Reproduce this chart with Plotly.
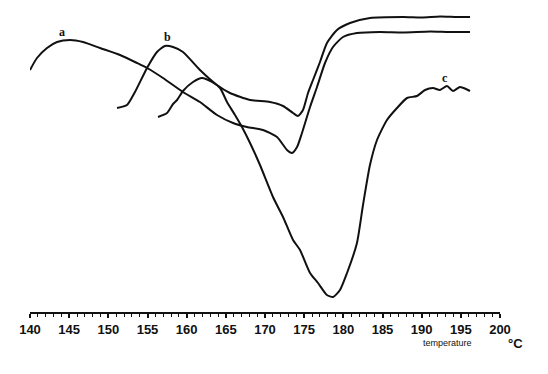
import plotly.graph_objects as go

# Temperature (°C) and heat-flow signal (arbitrary units)
temp_a = [140.0, 140.89, 142.17, 143.45, 145.11, 146.77, 148.94, 151.49, 153.66, 154.94,
          156.98, 159.53, 161.70, 163.87, 165.92, 167.70, 169.75, 171.53, 172.81, 173.45,
          174.09, 174.72, 175.75, 176.64, 177.66, 178.68, 179.96, 181.74, 184.68, 187.62,
          191.07, 193.5, 196.17]
sig_a = [24.2, 25.4, 26.4, 27.0, 27.2, 27.0, 26.4, 25.7, 24.9, 24.4,
         23.4, 22.0, 21.0, 19.7, 18.9, 18.5, 18.2, 17.5, 16.2, 15.9,
         16.5, 17.9, 20.5, 22.5, 24.9, 26.5, 27.5, 27.9, 28.0, 27.95,
         28.05, 28.0, 28.0]

temp_b = [151.11, 152.38, 153.40, 154.94, 156.21, 157.23, 158.26, 159.53, 161.70, 163.87,
          165.53, 168.09, 170.64, 172.30, 173.58, 174.21, 174.85, 175.49, 176.13, 177.02,
          177.91, 179.19, 180.85, 183.40, 187.62, 190.0, 192.34, 194.5, 196.17]
sig_b = [20.4, 20.7, 22.0, 24.4, 26.0, 26.6, 26.5, 26.0, 24.2, 22.7,
         21.9, 21.2, 21.0, 20.6, 19.9, 19.6, 20.2, 21.9, 23.2, 25.0,
         26.9, 28.2, 28.9, 29.4, 29.5, 29.45, 29.55, 29.5, 29.5]

temp_c = [156.34, 157.49, 158.26, 158.77, 159.53, 160.81, 161.96, 163.23, 164.26, 165.15,
          166.17, 167.06, 168.09, 169.36, 171.02, 172.30, 173.58, 174.47, 175.75, 176.77,
          177.91, 178.68, 179.57, 180.47, 181.74, 182.51, 183.40, 184.30, 185.57, 186.85,
          188.13, 189.40, 190.43, 191.45, 192.34, 193.23, 194.00, 194.89, 195.66, 196.17]
sig_c = [19.5, 19.9, 20.8, 21.2, 22.1, 23.0, 23.4, 23.0, 22.4, 21.0,
         19.7, 18.5, 16.9, 14.7, 11.5, 9.5, 7.2, 6.2, 3.9, 2.9,
         1.7, 1.5, 2.2, 3.9, 6.9, 10.7, 14.7, 17.2, 19.2, 20.4,
         21.4, 21.6, 22.2, 22.4, 22.2, 22.6, 22.1, 22.5, 22.3, 22.1]

curve_labels = ["a", "b", "c"]
label_pos = [(144.09, 28.0), (157.49, 27.5), (192.98, 23.4)]

major_ticks = list(range(140, 201, 5))
tick_text = [str(v) for v in major_ticks]

fig = go.Figure()
for t, s in [(temp_a, sig_a), (temp_b, sig_b), (temp_c, sig_c)]:
    fig.add_trace(go.Scatter(x=t, y=s, mode="lines",
                             line=dict(color="#111111", width=2, shape="spline", smoothing=0.6),
                             showlegend=False, hoverinfo="skip"))

for lab, (lx, ly) in zip(curve_labels, label_pos):
    fig.add_annotation(x=lx, y=ly, text="<b>" + lab + "</b>", showarrow=False,
                       font=dict(family="Liberation Serif, serif", size=12, color="#111111"))

fig.add_annotation(xref="paper", yref="paper", x=0.889, y=-0.10, text="temperature",
                   showarrow=False, xanchor="center", yanchor="middle",
                   font=dict(family="Liberation Sans Narrow, Liberation Sans, sans-serif",
                             size=9, color="#111111"))
fig.add_annotation(xref="paper", yref="paper", x=1.034, y=-0.10, text="<b>°C</b>",
                   showarrow=False, xanchor="center", yanchor="middle",
                   font=dict(family="Liberation Sans, sans-serif", size=13, color="#111111"))

fig.update_xaxes(range=[140, 200], showgrid=False, zeroline=False,
                 showline=True, linecolor="#111111", linewidth=2,
                 ticks="outside", ticklen=4, tickwidth=1.5, tickcolor="#111111",
                 tickvals=major_ticks, ticktext=tick_text,
                 minor=dict(dtick=1, ticks="outside", ticklen=3, tickwidth=1.2,
                            tickcolor="#111111", showgrid=False),
                 tickfont=dict(family="Liberation Sans Narrow, Liberation Sans, sans-serif",
                               size=13, color="#111111", weight="bold"))
fig.update_yaxes(range=[0, 31.2], visible=False)

fig.update_layout(width=548, height=374, margin=dict(l=30, r=48, t=0, b=62),
                  plot_bgcolor="white", paper_bgcolor="white")

fig.write_html("out.html", config={"displayModeBar": False},
               post_script="document.body.style.margin='0';")
